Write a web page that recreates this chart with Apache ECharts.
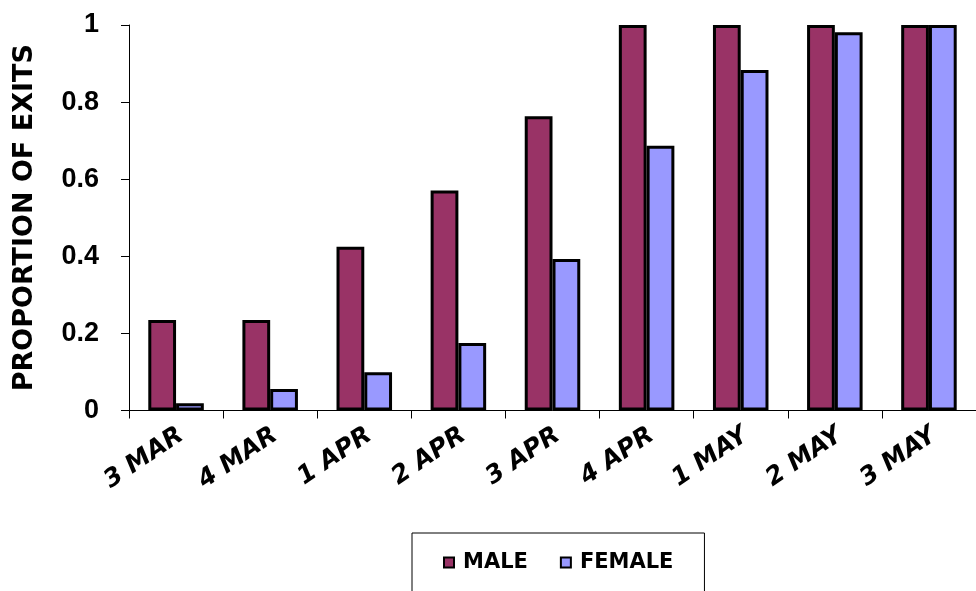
<!DOCTYPE html>
<html>
<head>
<meta charset="utf-8">
<script src="https://cdn.jsdelivr.net/npm/echarts@6/dist/echarts.min.js"></script>
<style>
html,body{margin:0;padding:0;background:#fff;}
#chart{width:976px;height:591px;}
</style>
</head>
<body>
<div id="chart"></div>
<script>
const categories = ['3 MAR','4 MAR','1 APR','2 APR','3 APR','4 APR','1 MAY','2 MAY','3 MAY'];
const maleValues = [0.235,0.235,0.425,0.571,0.763,1,1,1,1];
const femaleValues = [0.019,0.056,0.099,0.175,0.393,0.687,0.883,0.981,1];
const yTicks = [0,0.2,0.4,0.6,0.8,1];

const chart = echarts.init(document.getElementById('chart'));
const font = '"Liberation Sans", Arial, sans-serif';
const wide = '"DejaVu Sans", sans-serif';
chart.setOption({
  animation:false,
  backgroundColor:'#fff',
  grid:{left:129,right:-9,top:25,bottom:180.5,containLabel:false},
  legend:{
    data:['MALE','FEMALE'],
    left:412, top:533,
    orient:'horizontal',
    borderColor:'#000', borderWidth:1,
    padding:[19,31,40,31],
    itemWidth:10,itemHeight:10,itemGap:32,
    icon:'rect',
    textStyle:{fontFamily:wide,fontWeight:'bold',fontSize:21,color:'#000',padding:[0,0,0,4]}
  },
  xAxis:{
    type:'category',
    data:categories,
    axisLine:{lineStyle:{color:'#000',width:1}},
    axisTick:{show:true,length:8,lineStyle:{color:'#000'},alignWithLabel:false},
    axisLabel:{rotate:34,margin:26,interval:0,fontFamily:wide,fontWeight:'bold',fontStyle:'italic',fontSize:25,color:'#000',padding:[0,-6,0,0]}
  },
  yAxis:{
    type:'value',min:0,max:1,interval:0.2,
    name:'PROPORTION OF EXITS',
    nameLocation:'middle',nameGap:91,nameRotate:90,
    nameTextStyle:{fontFamily:wide,fontWeight:'bold',fontSize:27,color:'#000'},
    axisLine:{show:true,lineStyle:{color:'#000',width:1}},
    axisTick:{show:true,length:8,lineStyle:{color:'#000'}},
    splitLine:{show:false},
    axisLabel:{margin:30,fontFamily:font,fontWeight:'bold',fontSize:27,color:'#000',
      formatter:function(v){ for(const t of yTicks){ if(Math.abs(t-v)<1e-9) return String(t);} return ''; }}
  },
  series:[
    {name:'MALE',type:'bar',data:maleValues,barGap:'0%',barCategoryGap:'41%',
     itemStyle:{color:'#993366',borderColor:'#000',borderWidth:3}},
    {name:'FEMALE',type:'bar',data:femaleValues,barGap:'0%',barCategoryGap:'41%',
     itemStyle:{color:'#9999FF',borderColor:'#000',borderWidth:3}}
  ]
});
</script>
</body>
</html>
